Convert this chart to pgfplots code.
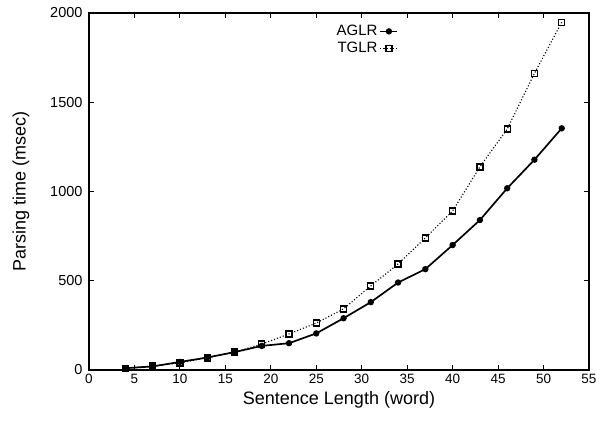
\documentclass[border=0pt]{standalone}
\usepackage{fontspec}
\setmainfont{Liberation Sans}
\usepackage{pgfplots}
\pgfplotsset{compat=1.18}

% sentence length vs parsing time
\pgfplotstableread{
len aglr tglr
4  10   10
7  20   22
10 45   40
13 70   68
16 100  100
19 135  145
22 150  202
25 205  263
28 290  342
31 380  471
34 490  594
37 565  740
40 700  891
43 840  1138
46 1018 1350
49 1178 1662
52 1354 1948
}\parsetimes

\begin{document}
\begin{tikzpicture}
\begin{axis}[
    name=ax,
    scale only axis,
    width=500pt,
    height=357pt,
    xmin=0, xmax=55,
    ymin=0, ymax=2000,
    xtick={0,5,...,55},
    ytick={0,500,...,2000},
    tick align=inside,
    major tick length=5pt,
    every tick/.style={black, line width=1pt},
    axis line style={line width=1.6pt},
    tick label style={font=\fontsize{13.5}{15}\selectfont},
    label style={font=\fontsize{18}{20}\selectfont},
    /pgf/number format/assume math mode=true,
    /pgf/number format/1000 sep={},
    xlabel={Sentence Length (word)},
    ylabel={Parsing time (msec)},
    xlabel style={yshift=-1pt},
    ylabel style={yshift=14pt},
    xticklabel style={yshift=-1pt},
    yticklabel style={xshift=-3pt, font=\fontsize{14.5}{16}\selectfont},
    legend style={draw=none, fill=none, at={(0.625,0.977)}, anchor=north east,
        font=\fontsize{15}{17}\selectfont, row sep=1pt},
    legend plot pos=right,
    legend cell align=right,
]
\addplot[black, line width=1.7pt, mark=*, mark size=2.3pt] table[x=len, y=aglr] {\parsetimes};
\addlegendentry{AGLR}
\addplot[black, line width=1.1pt, dotted, mark=square, mark size=3pt,
    mark options={solid, line width=1.3pt}] table[x=len, y=tglr] {\parsetimes};
\addlegendentry{TGLR}
\end{axis}
\useasboundingbox ([xshift=-89pt,yshift=-51pt]ax.south west) rectangle ([xshift=22pt,yshift=13pt]ax.north east);
\end{tikzpicture}
\end{document}
